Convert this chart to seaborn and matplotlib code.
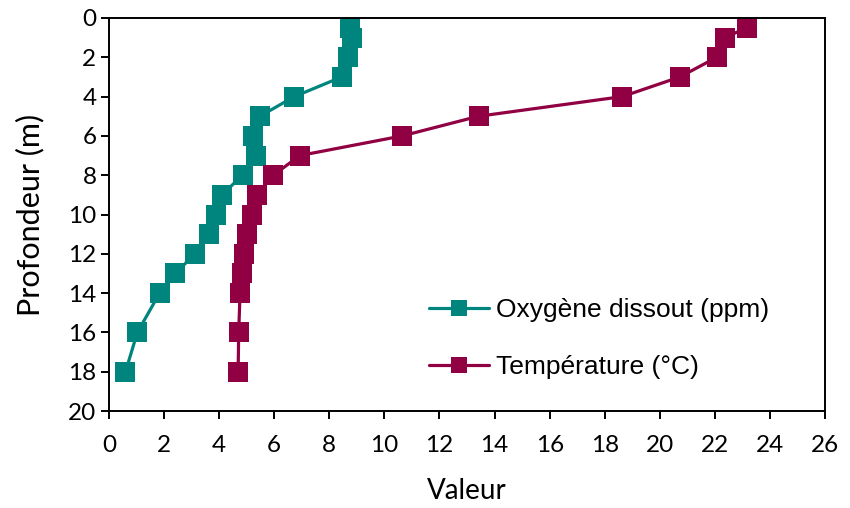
import pandas as pd
import matplotlib
matplotlib.use('Agg')
import matplotlib.pyplot as plt
import seaborn as sns
from matplotlib.lines import Line2D

profondeur = [0.5, 1, 2, 3, 4, 5, 6, 7, 8, 9, 10, 11, 12, 13, 14, 16, 18]
oxygene = [8.75, 8.83, 8.68, 8.45, 6.73, 5.48, 5.24, 5.34, 4.85, 4.1, 3.9,
           3.62, 3.13, 2.4, 1.84, 1.03, 0.6]
temperature = [23.15, 22.37, 22.07, 20.73, 18.64, 13.42, 10.65, 6.93, 5.97,
               5.36, 5.18, 5.0, 4.9, 4.82, 4.76, 4.71, 4.69]
series = ['Oxygène dissout (ppm)', 'Température (°C)']
couleurs = {'Oxygène dissout (ppm)': '#00857e', 'Température (°C)': '#910042'}

df = pd.concat([
    pd.DataFrame({'Profondeur': profondeur, 'Valeur': oxygene, 'Serie': series[0]}),
    pd.DataFrame({'Profondeur': profondeur, 'Valeur': temperature, 'Serie': series[1]}),
])

sns.set_style('ticks')
plt.rcParams['font.family'] = ['Lato', 'DejaVu Sans']
plt.rcParams['text.color'] = 'black'
plt.rcParams['axes.labelcolor'] = 'black'
plt.rcParams['xtick.color'] = 'black'
plt.rcParams['ytick.color'] = 'black'

fig = plt.figure(figsize=(8.5, 5.08), dpi=100)
ax = fig.add_axes([0.1282, 0.1909, 0.8424, 0.7737])

for s in series:
    sub = df[df['Serie'] == s]
    sns.lineplot(data=sub, x='Valeur', y='Profondeur', color=couleurs[s],
                 sort=False, estimator=None, marker='s', markersize=14.5,
                 markeredgewidth=0, linewidth=2.3, ax=ax)

ax.set_xlim(0, 26)
ax.set_ylim(20, 0)
ax.set_xticks(range(0, 27, 2))
ax.set_yticks(range(0, 21, 2))
ax.tick_params(axis='both', labelsize=17.5, length=6, width=1.4)
ax.tick_params(axis='x', pad=11)
ax.tick_params(axis='y', pad=3)
for sp in ax.spines.values():
    sp.set_visible(True)
    sp.set_color('black')
    sp.set_linewidth(1.4)
ax.set_xlabel('Valeur', fontsize=20, labelpad=16)
ax.set_ylabel('Profondeur (m)', fontsize=22, labelpad=17)

handles = [Line2D([0], [0], color=couleurs[s], marker='s', markersize=11,
                  markeredgewidth=0, linewidth=2.3) for s in series]
ax.legend(handles, series, loc='lower right', bbox_to_anchor=(0.955, 0.02),
          frameon=False, prop={'family': 'Liberation Sans', 'size': 19},
          labelspacing=1.25, handlelength=2.3, handletextpad=0.25)

fig.savefig('out.png', dpi=100)
